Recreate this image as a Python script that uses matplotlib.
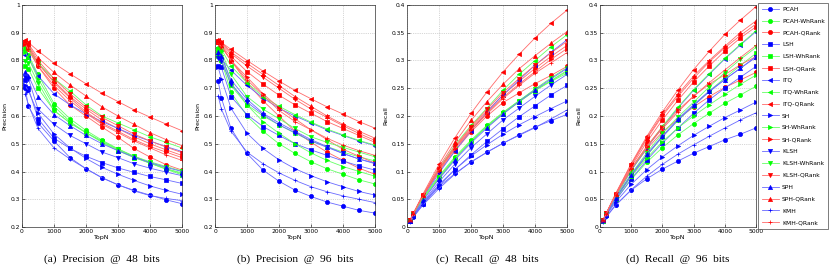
"""Precision / recall vs TopN for hashing methods with WhRank and QRank re-ranking."""

import matplotlib
matplotlib.use("Agg")
import matplotlib.pyplot as plt
from matplotlib.ticker import FormatStrFormatter

topn = [100, 200, 500, 1000, 1500, 2000, 2500, 3000, 3500, 4000, 4500, 5000]

methods = [
    "PCAH", "PCAH-WhRank", "PCAH-QRank",
    "LSH", "LSH-WhRank", "LSH-QRank",
    "ITQ", "ITQ-WhRank", "ITQ-QRank",
    "SH", "SH-WhRank", "SH-QRank",
    "KLSH", "KLSH-WhRank", "KLSH-QRank",
    "SPH", "SPH-QRank",
    "KMH", "KMH-QRank",
]

# precision @ 48 bits
prec48 = {
    "PCAH": [0.70, 0.635, 0.575, 0.51, 0.45, 0.41, 0.377, 0.352, 0.332, 0.315, 0.298, 0.284],
    "PCAH-WhRank": [0.84, 0.82, 0.75, 0.645, 0.59, 0.548, 0.513, 0.482, 0.455, 0.432, 0.41, 0.392],
    "PCAH-QRank": [0.855, 0.84, 0.78, 0.70, 0.64, 0.60, 0.56, 0.523, 0.483, 0.452, 0.425, 0.405],
    "LSH": [0.73, 0.70, 0.59, 0.52, 0.483, 0.455, 0.432, 0.413, 0.397, 0.382, 0.37, 0.357],
    "LSH-WhRank": [0.78, 0.77, 0.70, 0.62, 0.575, 0.54, 0.505, 0.475, 0.45, 0.43, 0.41, 0.395],
    "LSH-QRank": [0.86, 0.85, 0.79, 0.725, 0.67, 0.625, 0.585, 0.555, 0.525, 0.50, 0.478, 0.458],
    "ITQ": [0.82, 0.81, 0.745, 0.68, 0.64, 0.608, 0.58, 0.555, 0.53, 0.51, 0.49, 0.472],
    "ITQ-WhRank": [0.85, 0.84, 0.79, 0.735, 0.69, 0.64, 0.60, 0.575, 0.55, 0.525, 0.505, 0.485],
    "ITQ-QRank": [0.875, 0.865, 0.835, 0.79, 0.752, 0.716, 0.682, 0.652, 0.622, 0.596, 0.571, 0.547],
    "SH": [0.71, 0.69, 0.61, 0.535, 0.485, 0.447, 0.415, 0.39, 0.368, 0.348, 0.332, 0.318],
    "SH-WhRank": [0.83, 0.81, 0.735, 0.635, 0.58, 0.54, 0.508, 0.478, 0.452, 0.43, 0.408, 0.388],
    "SH-QRank": [0.865, 0.85, 0.79, 0.72, 0.665, 0.615, 0.575, 0.545, 0.515, 0.49, 0.47, 0.45],
    "KLSH": [0.74, 0.735, 0.625, 0.57, 0.53, 0.50, 0.47, 0.45, 0.428, 0.412, 0.398, 0.385],
    "KLSH-WhRank": [0.80, 0.79, 0.72, 0.62, 0.575, 0.54, 0.51, 0.48, 0.455, 0.435, 0.418, 0.402],
    "KLSH-QRank": [0.865, 0.855, 0.80, 0.735, 0.68, 0.632, 0.595, 0.565, 0.535, 0.51, 0.488, 0.468],
    "SPH": [0.76, 0.745, 0.67, 0.605, 0.565, 0.53, 0.50, 0.475, 0.452, 0.432, 0.415, 0.40],
    "SPH-QRank": [0.87, 0.86, 0.81, 0.757, 0.712, 0.672, 0.633, 0.60, 0.57, 0.54, 0.515, 0.493],
    "KMH": [0.68, 0.64, 0.555, 0.485, 0.445, 0.41, 0.378, 0.352, 0.33, 0.313, 0.303, 0.295],
    "KMH-QRank": [0.86, 0.84, 0.78, 0.71, 0.655, 0.61, 0.57, 0.54, 0.51, 0.485, 0.46, 0.44],
}

# precision @ 96 bits
prec96 = {
    "PCAH": [0.725, 0.665, 0.555, 0.465, 0.405, 0.365, 0.333, 0.31, 0.29, 0.275, 0.26, 0.25],
    "PCAH-WhRank": [0.83, 0.80, 0.685, 0.60, 0.545, 0.50, 0.465, 0.435, 0.41, 0.39, 0.37, 0.355],
    "PCAH-QRank": [0.87, 0.855, 0.80, 0.72, 0.655, 0.60, 0.545, 0.505, 0.47, 0.44, 0.412, 0.39],
    "LSH": [0.78, 0.775, 0.67, 0.605, 0.562, 0.53, 0.50, 0.478, 0.458, 0.438, 0.42, 0.405],
    "LSH-WhRank": [0.815, 0.805, 0.71, 0.64, 0.60, 0.568, 0.538, 0.51, 0.49, 0.47, 0.453, 0.438],
    "LSH-QRank": [0.865, 0.855, 0.815, 0.76, 0.715, 0.675, 0.64, 0.61, 0.58, 0.555, 0.53, 0.505],
    "ITQ": [0.825, 0.805, 0.765, 0.71, 0.665, 0.628, 0.60, 0.575, 0.55, 0.53, 0.51, 0.493],
    "ITQ-WhRank": [0.85, 0.84, 0.78, 0.72, 0.67, 0.635, 0.605, 0.578, 0.553, 0.532, 0.512, 0.495],
    "ITQ-QRank": [0.875, 0.865, 0.84, 0.80, 0.762, 0.726, 0.692, 0.662, 0.633, 0.607, 0.58, 0.556],
    "SH": [0.775, 0.735, 0.628, 0.538, 0.483, 0.442, 0.41, 0.385, 0.363, 0.345, 0.328, 0.315],
    "SH-WhRank": [0.84, 0.82, 0.72, 0.64, 0.58, 0.538, 0.50, 0.467, 0.44, 0.418, 0.40, 0.383],
    "SH-QRank": [0.865, 0.85, 0.80, 0.74, 0.68, 0.63, 0.59, 0.55, 0.515, 0.48, 0.455, 0.43],
    "KLSH": [0.81, 0.80, 0.715, 0.65, 0.605, 0.568, 0.54, 0.51, 0.487, 0.465, 0.445, 0.428],
    "KLSH-WhRank": [0.84, 0.83, 0.75, 0.67, 0.625, 0.59, 0.555, 0.525, 0.505, 0.487, 0.47, 0.453],
    "KLSH-QRank": [0.87, 0.86, 0.825, 0.78, 0.74, 0.70, 0.66, 0.625, 0.595, 0.565, 0.537, 0.512],
    "SPH": [0.83, 0.815, 0.73, 0.66, 0.61, 0.575, 0.545, 0.515, 0.49, 0.465, 0.445, 0.43],
    "SPH-QRank": [0.875, 0.865, 0.83, 0.79, 0.75, 0.71, 0.67, 0.635, 0.60, 0.57, 0.545, 0.52],
    "KMH": [0.672, 0.625, 0.545, 0.47, 0.428, 0.395, 0.368, 0.345, 0.327, 0.312, 0.30, 0.288],
    "KMH-QRank": [0.86, 0.85, 0.80, 0.73, 0.675, 0.62, 0.58, 0.55, 0.52, 0.495, 0.475, 0.458],
}

# recall @ 48 bits
rec48 = {
    "PCAH": [0.010, 0.0181, 0.0411, 0.0729, 0.0964, 0.1171, 0.1346, 0.1509, 0.166, 0.180, 0.1916, 0.2029],
    "PCAH-WhRank": [0.012, 0.0234, 0.0536, 0.0921, 0.1264, 0.1566, 0.1832, 0.2066, 0.2275, 0.2469, 0.2636, 0.280],
    "PCAH-QRank": [0.0122, 0.024, 0.0557, 0.100, 0.1371, 0.1714, 0.200, 0.2241, 0.2415, 0.2583, 0.2732, 0.2893],
    "LSH": [0.0104, 0.020, 0.0421, 0.0743, 0.1035, 0.130, 0.1543, 0.177, 0.1985, 0.2183, 0.2379, 0.255],
    "LSH-WhRank": [0.0111, 0.022, 0.050, 0.0886, 0.1232, 0.1543, 0.1804, 0.2036, 0.225, 0.2457, 0.2636, 0.2821],
    "LSH-QRank": [0.0123, 0.0243, 0.0564, 0.1036, 0.1436, 0.1786, 0.2089, 0.2379, 0.2625, 0.2857, 0.3073, 0.3271],
    "ITQ": [0.0117, 0.0231, 0.0532, 0.0971, 0.1371, 0.1737, 0.2071, 0.2379, 0.265, 0.2914, 0.315, 0.3371],
    "ITQ-WhRank": [0.0121, 0.024, 0.0564, 0.105, 0.1479, 0.1829, 0.2143, 0.2464, 0.275, 0.300, 0.3246, 0.3464],
    "ITQ-QRank": [0.0125, 0.0247, 0.0596, 0.1129, 0.1611, 0.2046, 0.2436, 0.2794, 0.311, 0.3406, 0.3671, 0.3907],
    "SH": [0.0101, 0.0197, 0.0436, 0.0764, 0.1039, 0.1277, 0.1482, 0.1671, 0.184, 0.1989, 0.2134, 0.2271],
    "SH-WhRank": [0.0119, 0.0231, 0.0525, 0.0907, 0.1243, 0.1543, 0.1814, 0.2049, 0.226, 0.2457, 0.2623, 0.2771],
    "SH-QRank": [0.0124, 0.0243, 0.0564, 0.1029, 0.1425, 0.1757, 0.2054, 0.2336, 0.2575, 0.280, 0.3021, 0.3214],
    "KLSH": [0.0106, 0.021, 0.0446, 0.0814, 0.1136, 0.1429, 0.1679, 0.1929, 0.214, 0.2354, 0.2559, 0.275],
    "KLSH-WhRank": [0.0114, 0.0226, 0.0514, 0.0886, 0.1232, 0.1543, 0.1821, 0.2057, 0.2275, 0.2486, 0.2687, 0.2871],
    "KLSH-QRank": [0.0124, 0.0244, 0.0571, 0.105, 0.1457, 0.1806, 0.2125, 0.2421, 0.2675, 0.2914, 0.3137, 0.3343],
    "SPH": [0.0109, 0.0213, 0.0479, 0.0864, 0.1211, 0.1514, 0.1786, 0.2036, 0.226, 0.2469, 0.2668, 0.2857],
    "SPH-QRank": [0.0124, 0.0246, 0.0579, 0.1081, 0.1526, 0.192, 0.2261, 0.2571, 0.285, 0.3086, 0.3311, 0.3521],
    "KMH": [0.0097, 0.0183, 0.0396, 0.0693, 0.0954, 0.1171, 0.135, 0.1509, 0.165, 0.1789, 0.1948, 0.2107],
    "KMH-QRank": [0.0123, 0.024, 0.0557, 0.1014, 0.1404, 0.1743, 0.2036, 0.2314, 0.255, 0.2771, 0.2957, 0.3143],
}

# recall @ 96 bits
rec96 = {
    "PCAH": [0.0104, 0.019, 0.0396, 0.0664, 0.0868, 0.1043, 0.1189, 0.1329, 0.145, 0.1571, 0.1671, 0.1786],
    "PCAH-WhRank": [0.0119, 0.0229, 0.0489, 0.0857, 0.1168, 0.1429, 0.1661, 0.1864, 0.205, 0.2229, 0.2379, 0.2536],
    "PCAH-QRank": [0.0124, 0.0244, 0.0571, 0.1029, 0.1404, 0.1714, 0.1946, 0.2164, 0.235, 0.2514, 0.2649, 0.2786],
    "LSH": [0.0111, 0.0221, 0.0479, 0.0864, 0.1204, 0.1514, 0.1786, 0.2049, 0.229, 0.2503, 0.270, 0.2893],
    "LSH-WhRank": [0.0116, 0.023, 0.0507, 0.0914, 0.1286, 0.1623, 0.1921, 0.2186, 0.245, 0.2686, 0.2912, 0.3129],
    "LSH-QRank": [0.0124, 0.0244, 0.0582, 0.1086, 0.1532, 0.1929, 0.2286, 0.2614, 0.290, 0.3171, 0.3407, 0.3607],
    "ITQ": [0.0118, 0.023, 0.0546, 0.1014, 0.1425, 0.1794, 0.2143, 0.2464, 0.275, 0.3029, 0.3279, 0.3521],
    "ITQ-WhRank": [0.0121, 0.024, 0.0557, 0.1029, 0.1436, 0.1814, 0.2161, 0.2477, 0.2765, 0.304, 0.3291, 0.3536],
    "ITQ-QRank": [0.0125, 0.0247, 0.060, 0.1143, 0.1633, 0.2074, 0.2471, 0.2837, 0.3165, 0.3469, 0.3729, 0.3971],
    "SH": [0.0111, 0.021, 0.0449, 0.0769, 0.1035, 0.1263, 0.1464, 0.165, 0.1815, 0.1971, 0.2109, 0.225],
    "SH-WhRank": [0.012, 0.0234, 0.0514, 0.0914, 0.1243, 0.1537, 0.1786, 0.2001, 0.220, 0.2389, 0.2571, 0.2736],
    "SH-QRank": [0.0124, 0.0243, 0.0571, 0.1057, 0.1457, 0.180, 0.2107, 0.2357, 0.2575, 0.2743, 0.2925, 0.3071],
    "KLSH": [0.0116, 0.0229, 0.0511, 0.0929, 0.1296, 0.1623, 0.1929, 0.2186, 0.2435, 0.2657, 0.2861, 0.3057],
    "KLSH-WhRank": [0.012, 0.0237, 0.0536, 0.0957, 0.1339, 0.1686, 0.1982, 0.225, 0.2525, 0.2783, 0.3021, 0.3236],
    "KLSH-QRank": [0.0124, 0.0246, 0.0589, 0.1114, 0.1586, 0.200, 0.2357, 0.2679, 0.2975, 0.3229, 0.3452, 0.3657],
    "SPH": [0.0119, 0.0233, 0.0521, 0.0943, 0.1307, 0.1643, 0.1946, 0.2207, 0.245, 0.2657, 0.2861, 0.3071],
    "SPH-QRank": [0.0125, 0.0247, 0.0593, 0.1129, 0.1607, 0.2029, 0.2393, 0.2721, 0.300, 0.3257, 0.3504, 0.3714],
    "KMH": [0.0096, 0.0179, 0.0389, 0.0671, 0.0917, 0.1129, 0.1314, 0.1479, 0.1635, 0.1783, 0.1929, 0.2057],
    "KMH-QRank": [0.0123, 0.0243, 0.0571, 0.1043, 0.1446, 0.1771, 0.2071, 0.2357, 0.260, 0.2829, 0.3054, 0.3271],
}

MARKERS = {"PCAH": "o", "LSH": "s", "ITQ": "<", "SH": ">", "KLSH": "v", "SPH": "^", "KMH": "+"}
COLORS = {"": ("#0000ff", "#6a6aff"), "WhRank": ("#00ff00", "#66ff66"), "QRank": ("#ff0000", "#ff6a6a")}

plt.rcParams["font.family"] = "DejaVu Sans"

fig = plt.figure(figsize=(8.31, 2.69), dpi=100)

panels = [
    (prec48, "Precision", (0.2, 1.0), 0.1, "(a)  Precision  @  48  bits", 22),
    (prec96, "Precision", (0.2, 1.0), 0.1, "(b)  Precision  @  96  bits", 215),
    (rec48, "Recall", (0.0, 0.4), 0.05, "(c)  Recall  @  48  bits", 407),
    (rec96, "Recall", (0.0, 0.4), 0.05, "(d)  Recall  @  96  bits", 600),
]
W, H = 831.0, 269.0
handles = []
for data, ylabel, ylim, ystep, caption, left_px in panels:
    width_px = 160 if left_px < 600 else 156
    ax = fig.add_axes([left_px / W, (269 - 227) / H, width_px / W, 222 / H])
    lines = []
    for name in methods:
        base, _, variant = name.partition("-")
        mc, lc = COLORS[variant]
        mk = MARKERS[base]
        ms = 3.0 if mk != "+" else 3.2
        (ln,) = ax.plot(topn, data[name], color=lc, lw=0.6, marker=mk, ms=ms,
                        markerfacecolor=mc, markeredgecolor=mc, markeredgewidth=0.5, label=name)
        lines.append(ln)
    if not handles:
        handles = lines
    ax.set_xlim(0, 5000)
    ax.set_ylim(*ylim)
    ax.set_xticks(range(0, 5001, 1000))
    nticks = int(round((ylim[1] - ylim[0]) / ystep))
    ax.set_yticks([ylim[0] + i * ystep for i in range(nticks + 1)])
    ax.yaxis.set_major_formatter(FormatStrFormatter("%g"))
    ax.tick_params(direction="in", labelsize=4.3, length=2, width=0.4, pad=1.5)
    ax.grid(True, linestyle=":", linewidth=0.5, color="#b0b0b0")
    for sp in ax.spines.values():
        sp.set_linewidth(0.5)
        sp.set_color("#303030")
    ax.set_xlabel("TopN", fontsize=4.5, labelpad=1)
    ax.set_ylabel(ylabel, fontsize=4.5, labelpad=2)
    fig.text((left_px + width_px / 2) / W, 1 - 259 / H, caption, ha="center", va="center",
             fontsize=8.2, family="Liberation Serif")

leg = fig.legend(handles=handles, loc="upper left", bbox_to_anchor=(758 / W, 1 - 3 / H),
                 fontsize=4.3, frameon=True, fancybox=False, borderaxespad=0,
                 handlelength=2.9, labelspacing=1.12, borderpad=0.6, handletextpad=0.5)
leg.get_frame().set_edgecolor("#404040")
leg.get_frame().set_linewidth(0.6)

fig.savefig("out.png", dpi=100)
